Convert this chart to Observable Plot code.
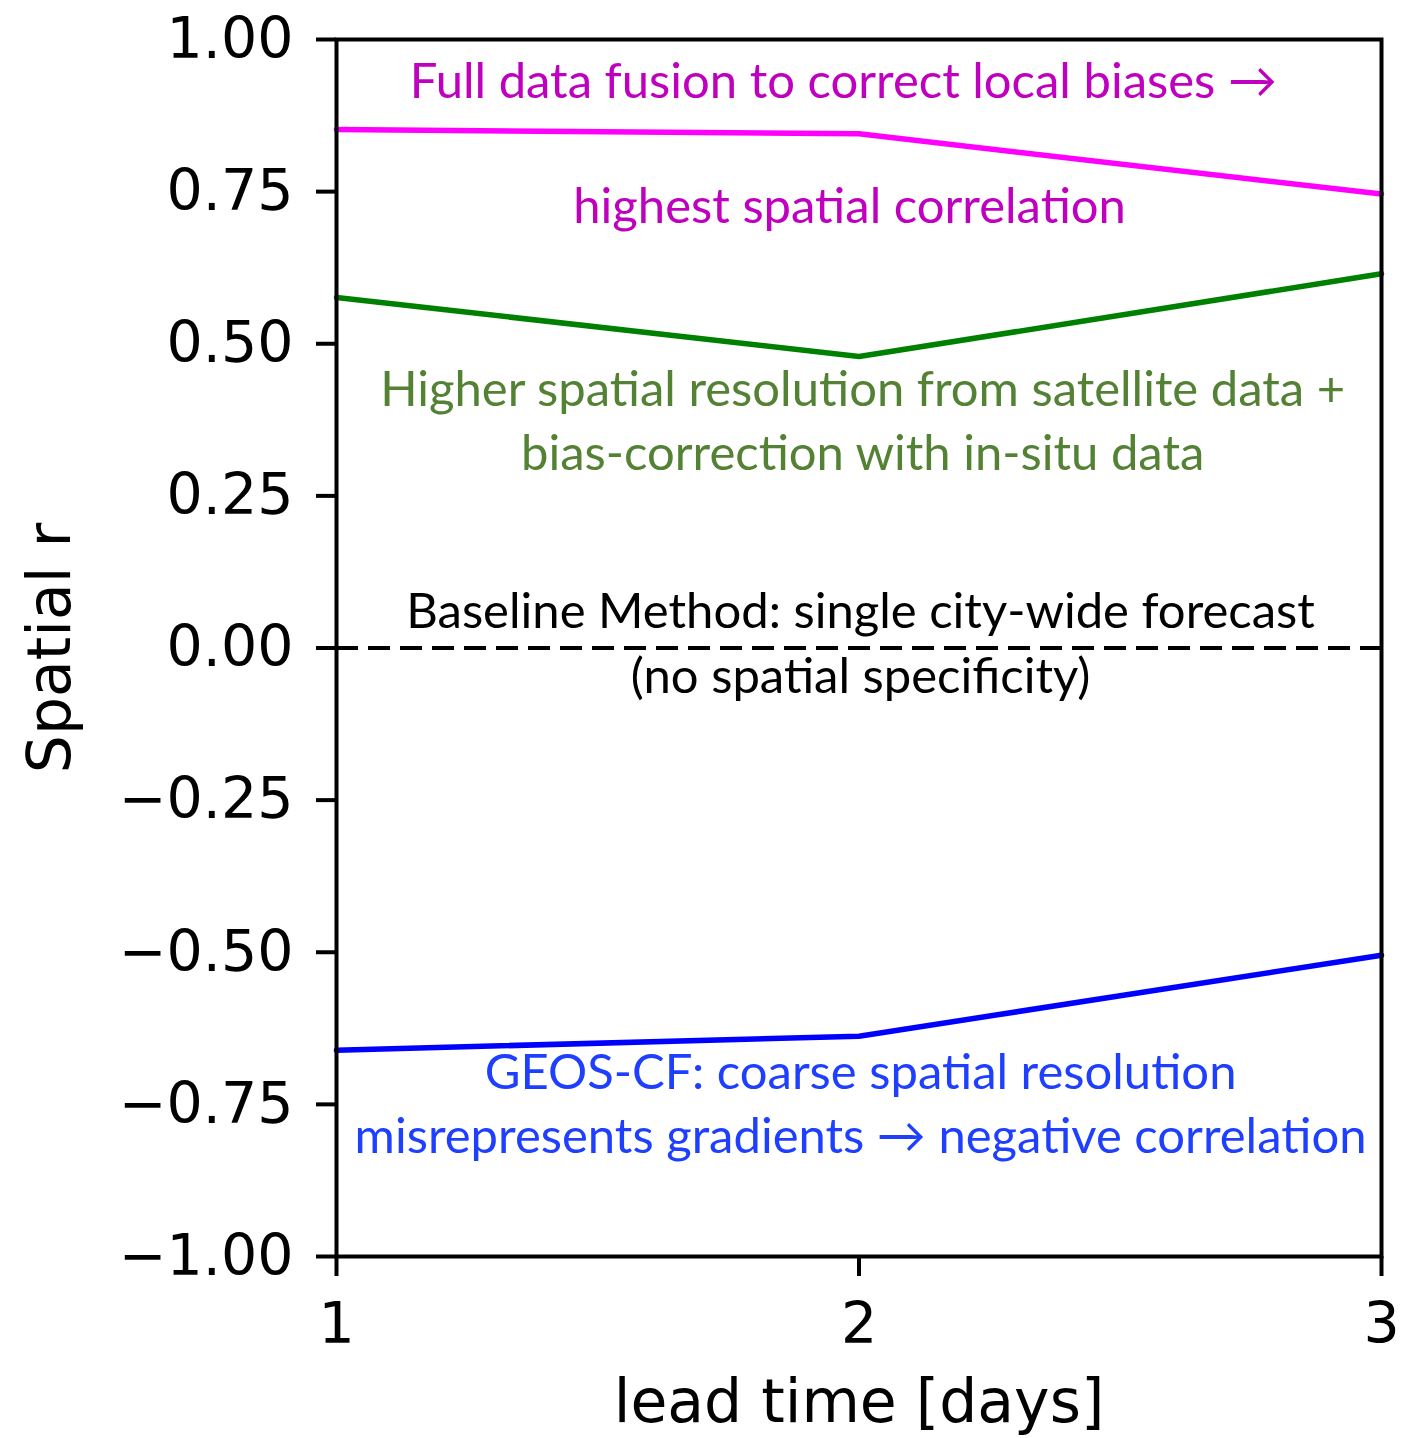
<!DOCTYPE html>
<html><head><meta charset="utf-8">
<script src="https://cdn.jsdelivr.net/npm/d3@7"></script>
<script src="https://cdn.jsdelivr.net/npm/@observablehq/plot@0.6"></script>
<style>body{margin:0;background:#fff}</style>
</head><body><div id="chart"></div>
<script>
// ---- data ----
const leadTime = [1, 2, 3];
const fusionR = [0.852, 0.845, 0.746];
const satelliteR = [0.576, 0.479, 0.615];
const geosR = [-0.661, -0.638, -0.505];
const baselineR = [0, 0, 0];
const yTicks = [-1, -0.75, -0.5, -0.25, 0, 0.25, 0.5, 0.75, 1];
const xTicks = [1, 2, 3];
const xLabel = "lead time [days]";
const yLabel = "Spatial r";

const noteText = [
  "Full data fusion to correct local biases \u2192",
  "highest spatial correlation",
  "Higher spatial resolution from satellite data +",
  "bias-correction with in-situ data",
  "Baseline Method: single city-wide forecast",
  "(no spatial specificity)",
  "GEOS-CF: coarse spatial resolution",
  "misrepresents gradients \u2192 negative correlation"
];
const noteX = [1.97, 1.982, 2.007, 2.007, 2.003, 2.003, 2.003, 2.003];
const noteY = [0.929, 0.724, 0.423, 0.318, 0.058, -0.048, -0.699, -0.804];
const noteGroup = ["fusion", "fusion", "satellite", "satellite", "baseline", "baseline", "geos", "geos"];

const lineColor = {fusion: "#ff00ff", satellite: "#008000", geos: "#0000ff", baseline: "#000000"};
const textColor = {fusion: "#bf00bf", satellite: "#548235", geos: "#1f3fff", baseline: "#000000"};

// ---- tables ----
const series = [
  ...leadTime.map((t, i) => ({t, r: fusionR[i], s: "fusion"})),
  ...leadTime.map((t, i) => ({t, r: satelliteR[i], s: "satellite"})),
  ...leadTime.map((t, i) => ({t, r: geosR[i], s: "geos"}))
];
const base = leadTime.map((t, i) => ({t, r: baselineR[i]}));
const notes = noteText.map((text, i) => ({text, x: noteX[i], y: noteY[i], g: noteGroup[i]}));

const chart = Plot.plot({
  width: 1402,
  height: 1438,
  marginLeft: 336,
  marginRight: 21,
  marginTop: 39,
  marginBottom: 182,
  style: {background: "#fff", color: "#000", fontFamily: "DejaVu Sans"},
  x: {domain: [1, 3]},
  y: {domain: [-1, 1]},
  marks: [
    Plot.ruleY(base, {y: "r", x1: 1, x2: 3, stroke: "#000", strokeWidth: 4, strokeDasharray: "22,10"}),
    Plot.line(series, {x: "t", y: "r", z: "s", stroke: d => lineColor[d.s], strokeWidth: 5.5}),
    Plot.text(notes, {x: "x", y: "y", text: "text", fill: d => textColor[d.g], fontFamily: "Lato", fontSize: 49, textAnchor: "middle", lineAnchor: "middle"}),
    Plot.axisY({ticks: yTicks, tickFormat: d3.format(".2f"), tickSize: 20, tickPadding: 23, fontSize: 57, strokeWidth: 4, label: null}),
    Plot.axisX({ticks: xTicks, tickFormat: d => String(d), tickSize: 20, tickPadding: 26, fontSize: 57, strokeWidth: 4, label: null}),
    Plot.text([yLabel], {frameAnchor: "left", dx: -286, rotate: -90, fontSize: 60, textAnchor: "middle", lineAnchor: "middle"}),
    Plot.text([xLabel], {frameAnchor: "bottom", dy: 146, fontSize: 60, textAnchor: "middle", lineAnchor: "middle"}),
    Plot.frame({stroke: "#000", strokeWidth: 4})
  ]
});
document.getElementById("chart").appendChild(chart);
</script>
</body></html>
